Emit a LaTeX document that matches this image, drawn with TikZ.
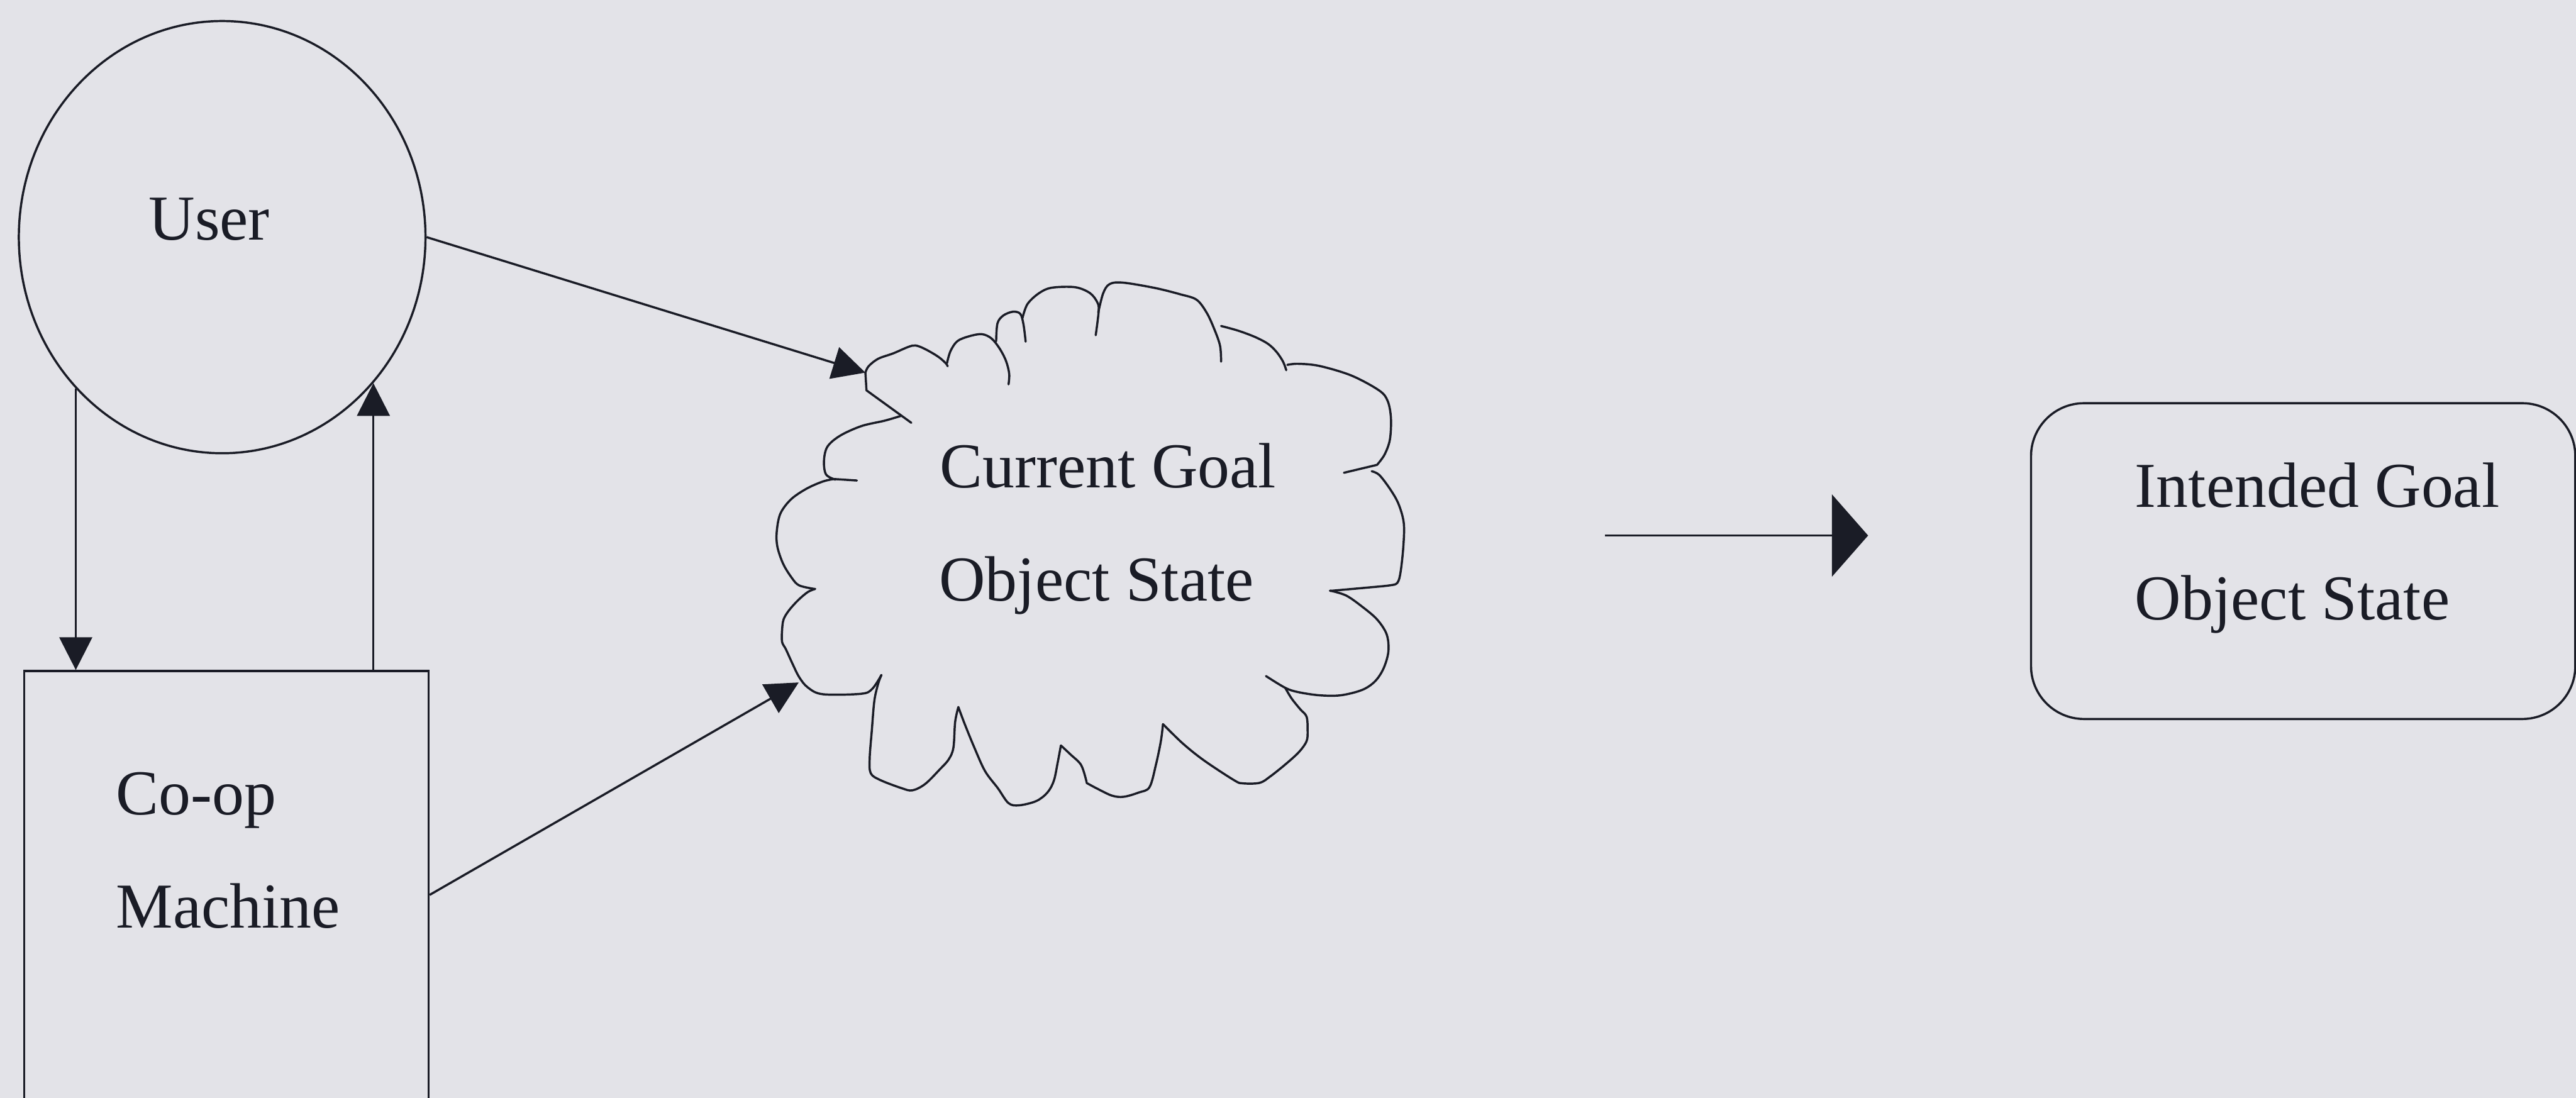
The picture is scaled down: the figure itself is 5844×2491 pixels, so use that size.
\documentclass[tikz,border=0pt]{standalone}
\usepackage{fontspec}
\setmainfont{Liberation Serif}
\usetikzlibrary{arrows.meta,shapes.geometric}
\definecolor{paper}{RGB}{227,227,232}
\definecolor{ink}{RGB}{26,28,38}
\begin{document}
\begin{tikzpicture}[x=0.01cm,y=-0.01cm,
  outline/.style={draw=ink, line width=1.4pt, inner sep=0pt},
  caption/.style={anchor=base west, inner sep=0pt, text=ink,
    font=\fontsize{41.3}{50}\selectfont},
  flow/.style={draw=ink, line width=1.4pt,
    -{Triangle[length=0.74cm,width=0.74cm]}},
  bigflow/.style={draw=ink, line width=1.4pt,
    -{Triangle[length=0.82cm,width=1.86cm]}},
  cloudline/.style={draw=ink, line width=1.4pt, line join=round, line cap=round},
  lobe/.style={cloudline, smooth, tension=0.55}]
\useasboundingbox (0,0) rectangle (5844,2491);
\fill[paper] (0,0) rectangle (5844,2491);
\clip (0,0) rectangle (5844,2491);

% actors
\node[outline, ellipse, minimum width=9.22cm, minimum height=9.8cm] (user) at (504,538) {};
\node[outline, rectangle, minimum width=9.17cm, minimum height=14cm, anchor=north] (coop) at (513.5,1520) {};
\node[outline, rectangle, rounded corners=1.2cm, minimum width=12.34cm, minimum height=7.16cm] (goal) at (5225,1273) {};

% cloud of the current goal object state, drawn lobe by lobe in four quarters
\begin{scope}[shift={(1750,620)}, scale=0.4847]
  \draw[cloudline] (655,700) -- (445,548) -- (440,465);
  \draw[lobe] plot coordinates {(440,465) (455,435) (500,400) (570,375) (640,345) (675,338) (720,355) (780,390) (815,420) (825,435)};
  \draw[lobe] plot coordinates {(822,420) (838,365) (870,318) (925,295) (985,285) (1030,305) (1068,352) (1098,410) (1113,470) (1110,520)};
  \draw[lobe] plot coordinates {(1052,318) (1058,235) (1085,198) (1130,180) (1165,190) (1180,240) (1190,320)};
  \draw[lobe] plot coordinates {(1175,210) (1198,145) (1250,95) (1310,68) (1420,65) (1490,92) (1525,135) (1532,175) (1518,290)};
  \draw[lobe] plot coordinates {(204,1478) (130,1461) (95,1425) (55,1360) (28,1280) (25,1210) (42,1125) (92,1058) (165,1008) (240,975) (292,963)} -- (400,970);
  \draw[lobe] plot coordinates {(300,966) (256,942) (246,880) (262,812) (322,760) (422,715) (530,690) (605,668)};
  \coordinate (cloudA) at (440,465);
\end{scope}
\begin{scope}[shift={(2460,600)}, scale=0.4847]
  \draw[lobe] plot coordinates {(65,225) (88,135) (118,92) (180,85) (330,110) (450,140) (525,165) (572,225) (607,300) (635,380) (640,455)};
  \draw[lobe] plot coordinates {(640,288) (720,310) (800,340) (860,372) (900,410) (930,455) (945,495)};
  \draw[lobe] plot coordinates {(950,470) (1000,465) (1100,475) (1250,520) (1380,590) (1420,640) (1435,720) (1430,820) (1405,890) (1370,938)} -- (1215,975);
  \draw[lobe] plot coordinates {(1345,968) (1380,985) (1430,1050) (1470,1120) (1495,1210) (1493,1320) (1480,1440) (1465,1490) (1430,1502) (1330,1512) (1150,1528)};
\end{scope}
\begin{scope}[shift={(2460,1100)}, scale=0.4847]
  \draw[lobe] plot coordinates {(1150,495) (1225,518) (1300,570) (1370,630) (1415,700) (1423,780) (1400,860) (1360,920) (1300,960) (1200,985) (1100,985) (1000,970) (940,950) (850,895)};
  \draw[lobe] plot coordinates {(940,950) (970,1000) (1010,1050) (1040,1085) (1045,1150) (1040,1200) (1005,1250) (945,1305) (870,1365) (820,1395) (740,1397) (700,1382) (560,1290) (460,1210) (368,1120)};
  \draw[lobe] plot coordinates {(368,1120) (358,1200) (335,1310) (305,1415) (255,1440) (185,1460) (130,1455) (60,1422) (10,1395)};
\end{scope}
\begin{scope}[shift={(1750,1100)}, scale=0.4847]
  \draw[lobe] plot coordinates {(1475,1390) (1450,1312) (1400,1262) (1355,1220)};
  \draw[lobe] plot coordinates {(1355,1220) (1340,1300) (1322,1385) (1292,1440) (1240,1480) (1160,1500) (1110,1490) (1060,1420) (1000,1340) (950,1230) (905,1120) (875,1040)};
  \draw[lobe] plot coordinates {(875,1040) (860,1110) (852,1230) (830,1285) (790,1330) (720,1400) (660,1430) (610,1420) (510,1382) (465,1350) (460,1280) (470,1150) (482,1010) (500,930) (515,890)};
  \draw[lobe] plot coordinates {(515,890) (472,955) (420,978) (240,980) (170,948) (130,900) (100,840) (68,770) (50,735) (50,680) (57,630) (82,588) (125,540) (170,502) (205,487)};
  \coordinate (cloudB) at (128,925);
\end{scope}

% texts
\node[caption] (userTxt) at (337,544) {User};
\node[caption] (coopTxtA) at (263,1849) {Co-op};
\node[caption] (coopTxtB) at (263,2105) {Machine};
\node[caption] (curTxtA) at (2132,1107) {Current Goal};
\node[caption] (curTxtB) at (2130,1363) {Object State};
\node[caption] (intTxtA) at (4843,1151) {Intended Goal};
\node[caption] (intTxtB) at (4843,1406) {Object State};

% connectors
\draw[flow] (user.226.2) -- (user.226.2 |- coop.north);
\draw[flow] (user.-44.6 |- coop.north) -- (user.-44.6);
\draw[flow] (user.east) -- (cloudA);
\draw[flow] ([yshift=-5.1cm]coop.north east) -- (cloudB);
\coordinate (fwdS) at (3641,1215);
\coordinate (fwdE) at (4238,1215);
\draw[bigflow] (fwdS) -- (fwdE);
\end{tikzpicture}
\end{document}
